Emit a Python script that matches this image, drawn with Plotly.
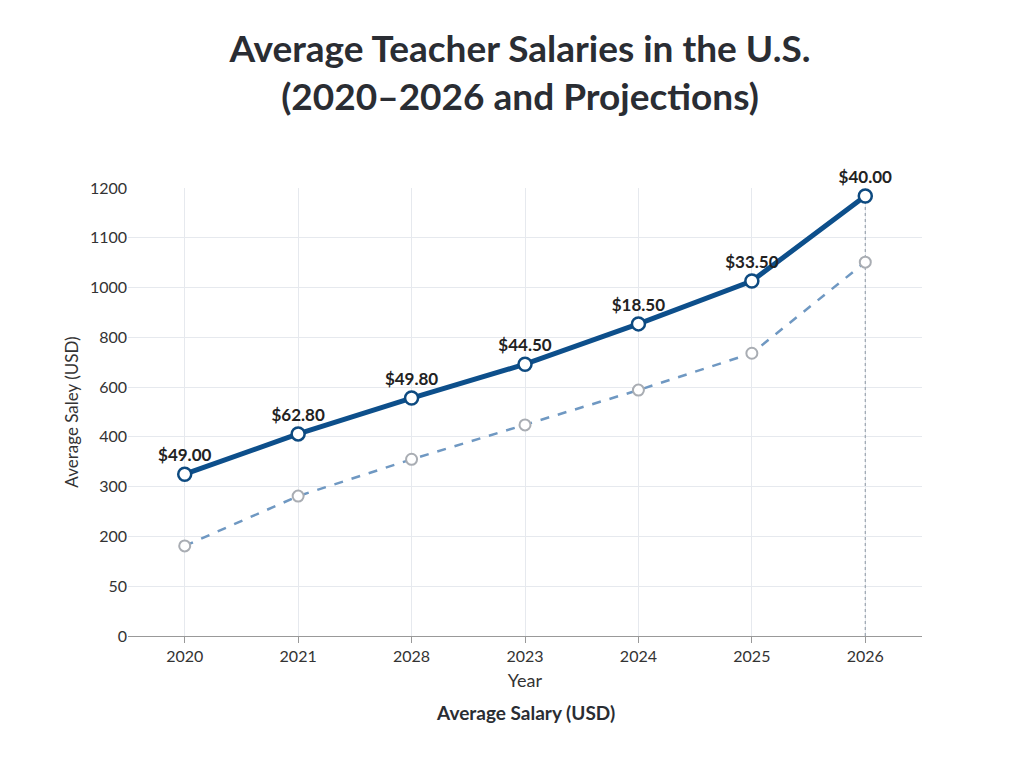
import plotly.graph_objs as go

# x categories as printed in the chart (order kept as shown)
years = ["2020", "2021", "2028", "2023", "2024", "2025", "2026"]

# y axis is evenly spaced with these labels
y_labels = ["0", "50", "200", "300", "400", "600", "800", "1000", "1100", "1200"]

# values in tick-index units (position on the evenly spaced axis)
actual = [3.25, 4.06, 4.78, 5.46, 6.27, 7.13, 8.84]
projected = [1.81, 2.81, 3.55, 4.24, 4.94, 5.68, 7.51]
point_labels = ["$49.00", "$62.80", "$49.80", "$44.50", "$18.50", "$33.50", "$40.00"]

font = "Lato, Roboto, sans-serif"

fig = go.Figure()

fig.add_trace(go.Scatter(
    x=[years[-1], years[-1]], y=[0, actual[-1]], mode="lines",
    line=dict(color="#9aa4b0", width=1.2, dash="dot"), hoverinfo="skip", showlegend=False))

fig.add_trace(go.Scatter(
    x=years, y=projected, mode="lines+markers",
    line=dict(color="#6f98c2", width=2.5, dash="dash"),
    marker=dict(size=11, color="white", line=dict(color="#a9adb3", width=2)),
    showlegend=False))

fig.add_trace(go.Scatter(
    x=years, y=actual, mode="lines+markers+text", cliponaxis=False,
    line=dict(color="#0d4f8b", width=5),
    marker=dict(size=13, color="white", line=dict(color="#0d4a80", width=2.5)),
    text=["<b>%s</b>" % t for t in point_labels], textposition="top center",
    textfont=dict(family=font, size=17, color="#222"),
    showlegend=False))

fig.update_layout(
    width=1024, height=768,
    paper_bgcolor="white", plot_bgcolor="white",
    margin=dict(l=120, r=110, t=180, b=140),
    title=dict(text="<b>Average Teacher Salaries in the U.S.<br>(2020–2026 and Projections)</b>",
               x=0.5, y=0.93, yanchor="top",
               font=dict(family=font, size=37, color="#2a2d33")),
    font=dict(family=font, color="#333"),
    xaxis=dict(type="category", categoryorder="array", categoryarray=years,
               range=[-0.5, 6.5], showgrid=True, gridcolor="#e6e9ee",
               showline=True, linecolor="#999", ticks="outside", ticklen=6,
               tickcolor="#999", tickfont=dict(size=16, color="#333"),
               title=dict(text="Year", font=dict(size=18), standoff=10)),
    yaxis=dict(range=[0, 9], tickvals=list(range(len(y_labels))), ticktext=y_labels,
               showgrid=True, gridcolor="#e6e9ee", zeroline=False,
               tickfont=dict(size=16, color="#333"),
               title=dict(text="Average Saley (USD)", font=dict(size=17), standoff=6)),
    annotations=[dict(text="<b>Average Salary (USD)</b>", x=0.5, y=-0.2,
                      xref="paper", yref="paper", showarrow=False,
                      font=dict(family=font, size=19, color="#2a2d33"))],
)

fig.write_html("out.html")
